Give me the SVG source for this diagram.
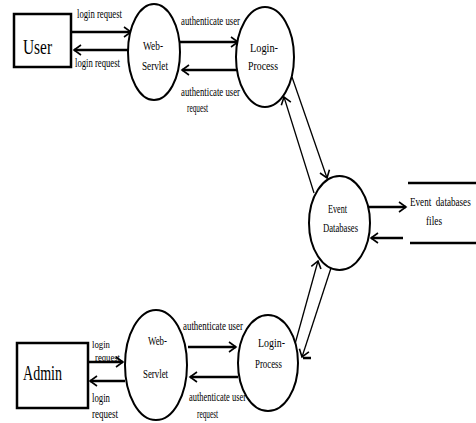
<svg xmlns="http://www.w3.org/2000/svg" width="476" height="423" viewBox="0 0 476 423">
<style>
.box{fill:#fff;stroke:#000;stroke-width:2.5}
.proc{fill:#fff;stroke:#000;stroke-width:2}
.flow{stroke:#000;stroke-width:2.5;fill:none}
.thin{stroke:#000;stroke-width:1.3;fill:none}
.store{stroke:#000;stroke-width:2.5}
text{font-family:"Liberation Serif","Times New Roman",serif;fill:#000}
.lbl{font-size:12px}
.sm{font-size:11px}
.big{font-size:22px}
</style>
<defs>
<marker id="ah" markerUnits="userSpaceOnUse" markerWidth="12" markerHeight="12" refX="8" refY="5" orient="auto" overflow="visible">
<path d="M1,0 L8,5 L1,10" fill="none" stroke="#000" stroke-width="1.6"/>
</marker>
</defs>
<rect width="476" height="423" fill="#fff"/>

<g id="connectors">
<line class="flow" x1="71" y1="32" x2="131" y2="32" marker-end="url(#ah)"/>
<line class="flow" x1="128" y1="50" x2="74" y2="50" marker-end="url(#ah)"/>
<line class="flow" x1="180" y1="42" x2="238" y2="42" marker-end="url(#ah)"/>
<line class="flow" x1="237" y1="70" x2="182" y2="70" marker-end="url(#ah)"/>
<line class="thin" x1="292" y1="77" x2="327" y2="178" marker-end="url(#ah)"/>
<line class="thin" x1="314" y1="193" x2="284" y2="97" marker-end="url(#ah)"/>
<line class="flow" x1="369" y1="207" x2="406" y2="207" marker-end="url(#ah)"/>
<line class="flow" x1="403" y1="238" x2="371" y2="238" marker-end="url(#ah)"/>
<line class="thin" x1="295" y1="344" x2="318" y2="261" marker-end="url(#ah)"/>
<line class="thin" x1="331" y1="268" x2="302" y2="357" marker-end="url(#ah)"/>
<line class="flow" x1="303" y1="358" x2="311" y2="358"/>
<line class="flow" x1="188" y1="347" x2="236" y2="347" marker-end="url(#ah)"/>
<line class="flow" x1="238" y1="377" x2="190" y2="377" marker-end="url(#ah)"/>
<line class="flow" x1="88" y1="362" x2="123" y2="362" marker-end="url(#ah)"/>
<line class="flow" x1="125" y1="381" x2="90" y2="381" marker-end="url(#ah)"/>
<text class="lbl" x="77" y="18" textLength="45" lengthAdjust="spacingAndGlyphs">login request</text>
<text class="lbl" x="75" y="67" textLength="45" lengthAdjust="spacingAndGlyphs">login request</text>
<text class="lbl" x="181" y="25" textLength="59" lengthAdjust="spacingAndGlyphs">authenticate user</text>
<text class="lbl" x="181" y="96" textLength="59" lengthAdjust="spacingAndGlyphs">authenticate user</text>
<text class="lbl" x="187" y="112" textLength="21" lengthAdjust="spacingAndGlyphs">request</text>
<text class="lbl" x="183" y="330" textLength="60" lengthAdjust="spacingAndGlyphs">authenticate user</text>
<text class="lbl" x="189" y="401" textLength="57" lengthAdjust="spacingAndGlyphs">authenticate user</text>
<text class="lbl" x="197" y="418" textLength="21" lengthAdjust="spacingAndGlyphs">request</text>
<text class="sm" x="92" y="348" textLength="18" lengthAdjust="spacingAndGlyphs">login</text>
<text class="sm" x="95" y="361" textLength="25" lengthAdjust="spacingAndGlyphs">request</text>
<text class="lbl" x="92" y="402" textLength="18" lengthAdjust="spacingAndGlyphs">login</text>
<text class="lbl" x="92" y="418" textLength="26" lengthAdjust="spacingAndGlyphs">request</text>
</g>

<g id="user">
<rect class="box" x="14" y="14" width="57" height="53"/>
<text class="big" x="23" y="54" textLength="29" lengthAdjust="spacingAndGlyphs">User</text>
</g>

<g id="web-servlet-1">
<ellipse class="proc" cx="154" cy="52" rx="26" ry="48"/>
<text class="lbl" x="143" y="50" textLength="20" lengthAdjust="spacingAndGlyphs">Web-</text>
<text class="lbl" x="142" y="70" textLength="26" lengthAdjust="spacingAndGlyphs">Servlet</text>
</g>

<g id="login-process-1">
<ellipse class="proc" cx="265" cy="57" rx="29" ry="50"/>
<text class="lbl" x="250" y="52" textLength="28" lengthAdjust="spacingAndGlyphs">Login-</text>
<text class="lbl" x="248" y="70" textLength="30" lengthAdjust="spacingAndGlyphs">Process</text>
</g>

<g id="event-databases">
<ellipse class="proc" cx="339.5" cy="223" rx="30.5" ry="47"/>
<text class="lbl" x="328" y="213" textLength="19" lengthAdjust="spacingAndGlyphs">Event</text>
<text class="lbl" x="323" y="232" textLength="35" lengthAdjust="spacingAndGlyphs">Databases</text>
</g>

<g id="event-databases-files">
<line class="store" x1="408" y1="183" x2="476" y2="183"/>
<line class="store" x1="410" y1="243" x2="476" y2="243"/>
<text class="lbl" transform="translate(410,206) scale(0.76,1)" xml:space="preserve">Event  databases</text>
<text class="lbl" x="426" y="225" textLength="16" lengthAdjust="spacingAndGlyphs">files</text>
</g>

<g id="admin">
<rect class="box" x="17" y="343" width="71" height="65"/>
<text class="big" x="23" y="380" textLength="39" lengthAdjust="spacingAndGlyphs">Admin</text>
</g>

<g id="web-servlet-2">
<ellipse class="proc" cx="156" cy="365" rx="31" ry="55"/>
<text class="lbl" x="148" y="345" textLength="19" lengthAdjust="spacingAndGlyphs">Web-</text>
<text class="lbl" x="143" y="378" textLength="25" lengthAdjust="spacingAndGlyphs">Servlet</text>
</g>

<g id="login-process-2">
<ellipse class="proc" cx="268" cy="363" rx="30" ry="48"/>
<text class="lbl" x="258" y="347" textLength="27" lengthAdjust="spacingAndGlyphs">Login-</text>
<text class="lbl" x="255" y="368" textLength="27" lengthAdjust="spacingAndGlyphs">Process</text>
</g>
</svg>
